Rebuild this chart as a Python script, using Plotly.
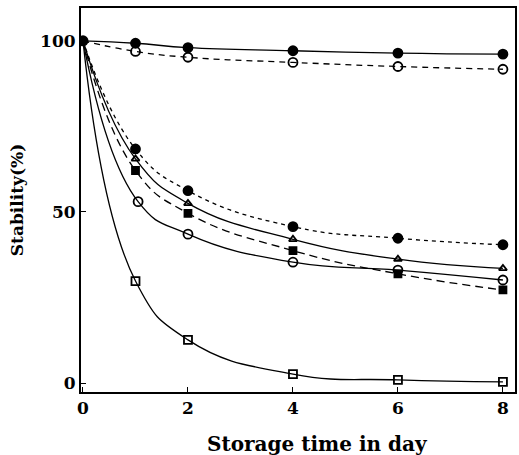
import plotly.graph_objects as go

days = [0, 1, 2, 4, 6, 8]
days_oc = [0, 1.05, 2, 4, 6, 8]

fc_top = [100, 99.3, 98.0, 97.1, 96.4, 96.1]
oc_top = [100, 96.9, 95.2, 93.7, 92.5, 91.7]
fc_low = [100, 68.4, 56.2, 45.7, 42.3, 40.4]
tri_low = [100, 65.5, 52.5, 42.0, 36.2, 33.5]
fsq_low = [100, 62.1, 49.6, 38.7, 31.9, 27.2]
oc_low = [100, 53.0, 43.5, 35.3, 33.0, 30.1]
osq_low = [100, 29.8, 12.6, 2.6, 0.9, 0.3]

x_ticks = [0, 2, 4, 6, 8]
y_ticks = [0, 50, 100]

series = [
    (days, osq_low, "solid", "square-open", 8),
    (days_oc, oc_low, "solid", "circle-open", 9),
    (days, fsq_low, "8px,5px", "square", 7),
    (days, tri_low, "solid", "triangle-up-open", 7),
    (days, fc_low, "4px,4px", "circle", 9),
    (days, oc_top, "6px,5px", "circle-open", 9),
    (days, fc_top, "solid", "circle", 9),
]

fig = go.Figure()
for xs, ys, dash, sym, sz in series:
    sizes = [0] + [sz] * (len(xs) - 1)
    fig.add_trace(go.Scatter(
        x=xs, y=ys, mode="lines+markers",
        line=dict(color="black", width=1.3, dash=dash, shape="spline", smoothing=1.3),
        marker=dict(symbol=sym, size=sizes, color="black", opacity=1,
                    line=dict(color="black", width=1.8)),
        showlegend=False,
    ))
# start point marker
fig.add_trace(go.Scatter(x=[days[0]], y=[fc_top[0]], mode="markers",
                         marker=dict(symbol="circle", size=11, color="black", opacity=1),
                         showlegend=False))

tick_font = dict(family="DejaVu Serif", size=17, color="black", weight="bold")
fig.update_layout(
    width=519, height=455,
    margin=dict(l=81, r=2, t=8, b=63),
    paper_bgcolor="white", plot_bgcolor="white",
    font=dict(family="DejaVu Serif", color="black"),
    xaxis=dict(
        range=[-0.038, 8.23], tickvals=x_ticks, ticktext=[str(v) for v in x_ticks],
        ticks="inside", ticklen=5, tickcolor="black", tickwidth=1.2,
        showline=True, linecolor="black", linewidth=2, mirror=True,
        showgrid=False, zeroline=False,
        tickfont=tick_font,
    ),
    yaxis=dict(
        range=[-2.63, 109.6], tickvals=y_ticks, ticktext=[str(v) for v in y_ticks],
        ticks="inside", ticklen=5, tickcolor="black", tickwidth=1.2,
        showline=True, linecolor="black", linewidth=2, mirror=True,
        showgrid=False, zeroline=False,
        tickfont=tick_font,
        title=dict(text="<b>Stability(%)</b>",
                   font=dict(family="DejaVu Serif", size=17, color="black"), standoff=12),
    ),
    annotations=[dict(
        text="<b>Storage time in day</b>", xref="paper", yref="paper",
        x=0.544, y=-0.135, xanchor="center", yanchor="middle", showarrow=False,
        font=dict(family="DejaVu Serif", size=20, color="black"),
    )],
)

fig.write_html("out.html")
